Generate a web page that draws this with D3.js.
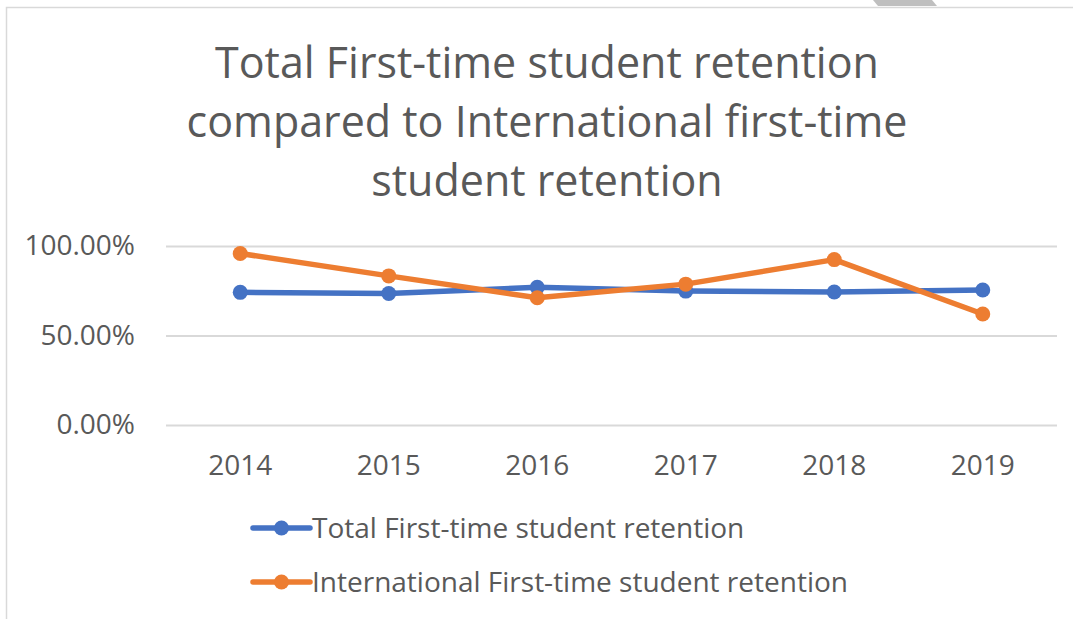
<!DOCTYPE html>
<head>
<meta charset="utf-8">
<title>First-time student retention</title>
<script src="https://d3js.org/d3.v7.min.js"></script>
<style>
body{
	margin: 0;
	background: #fff;
	font-family: "Open Sans", sans-serif;
}
svg text{
	fill: #595959;
}
</style>
</head>
<body>
<div id="my_dataviz"></div>
<script>

// data
var years = ["2014", "2015", "2016", "2017", "2018", "2019"];
var totalRetention = [0.741, 0.735, 0.769, 0.748, 0.743, 0.754];
var intlRetention = [0.958, 0.833, 0.711, 0.787, 0.924, 0.620];
var seriesNames = ["Total First-time student retention", "International First-time student retention"];
var seriesColors = ["#4472C4", "#ED7D31"];
var yTicks = [0, 0.5, 1];
var titleLines = ["Total First-time student retention", "compared to International first-time", "student retention"];

var width = 1073, height = 619;

var svg = d3.select("#my_dataviz")
	.append("svg")
	.attr("width", width)
	.attr("height", height);

// chart frame (partly cut off like the screenshot)
svg.append("rect")
	.attr("x", 6.5)
	.attr("y", 7.5)
	.attr("width", width + 20)
	.attr("height", height + 20)
	.attr("fill", "none")
	.attr("stroke", "#D9D9D9")
	.attr("stroke-width", 1.5);

svg.append("polygon")
	.attr("points", "873,0 932,0 937,6 878,6")
	.attr("fill", "#BFBFBF");

// title
svg.append("g")
	.selectAll("text")
	.data(titleLines)
	.join("text")
	.attr("x", 547)
	.attr("y", (d, i) => 78 + i * 59)
	.attr("text-anchor", "middle")
	.attr("font-size", 43)
	.text(d => d);

// scales
var x = d3.scaleBand()
	.domain(years)
	.range([166, 1057]);

var y = d3.scaleLinear()
	.domain([0, 1])
	.range([425, 246]);

// y axis + gridlines
var yAxis = svg.append("g")
	.attr("transform", "translate(166,0)")
	.call(d3.axisLeft(y)
		.tickValues(yTicks)
		.tickSize(-(1057 - 166))
		.tickPadding(31)
		.tickFormat(d3.format(".2%")));
yAxis.select(".domain").remove();
yAxis.selectAll("line")
	.attr("stroke", "#D9D9D9")
	.attr("stroke-width", 2);
yAxis.selectAll("text")
	.attr("font-size", 28)
	.attr("font-family", "Open Sans")
	.attr("fill", "#595959");

// x axis labels
var xAxis = svg.append("g")
	.attr("transform", "translate(0,425)")
	.call(d3.axisBottom(x).tickSize(0).tickPadding(30));
xAxis.select(".domain").remove();
xAxis.selectAll("text")
	.attr("font-size", 28)
	.attr("font-family", "Open Sans")
	.attr("fill", "#595959");

// lines + markers
var allSeries = [totalRetention, intlRetention];

var line = d3.line()
	.x((d, i) => x(years[i]) + x.bandwidth() / 2)
	.y(d => y(d));

allSeries.forEach(function(values, s) {
	svg.append("path")
		.datum(values)
		.attr("d", line)
		.attr("fill", "none")
		.attr("stroke", seriesColors[s])
		.attr("stroke-width", 5.5)
		.attr("stroke-linejoin", "round");
	svg.append("g")
		.selectAll("circle")
		.data(values)
		.join("circle")
		.attr("cx", (d, i) => x(years[i]) + x.bandwidth() / 2)
		.attr("cy", d => y(d))
		.attr("r", 7.5)
		.attr("fill", seriesColors[s]);
});

// legend
var legend = svg.append("g")
	.selectAll("g")
	.data(seriesNames)
	.join("g")
	.attr("transform", (d, i) => "translate(253," + (528 + i * 54) + ")");

legend.append("line")
	.attr("x1", 0)
	.attr("x2", 57)
	.attr("stroke", (d, i) => seriesColors[i])
	.attr("stroke-width", 5.5)
	.attr("stroke-linecap", "round");
legend.append("circle")
	.attr("cx", 28.5)
	.attr("r", 7.5)
	.attr("fill", (d, i) => seriesColors[i]);
legend.append("text")
	.attr("x", 59)
	.attr("y", 10)
	.attr("font-size", 28)
	.text(d => d);

</script>
</body>
</html>
